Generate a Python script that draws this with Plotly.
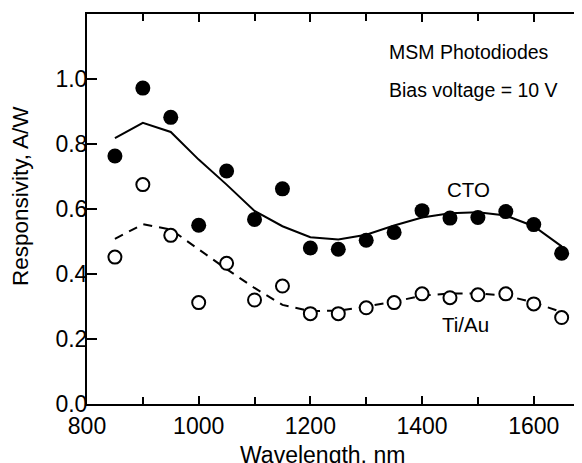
import plotly.graph_objects as go

wavelength = [850, 900, 950, 1000, 1050, 1100, 1150, 1200, 1250, 1300, 1350, 1400, 1450, 1500, 1550, 1600, 1650]
cto_points = [0.763, 0.972, 0.882, 0.550, 0.717, 0.568, 0.662, 0.480, 0.476, 0.504, 0.528, 0.595, 0.572, 0.574, 0.592, 0.552, 0.464]
cto_fit = [0.818, 0.865, 0.837, 0.752, 0.675, 0.594, 0.547, 0.513, 0.506, 0.521, 0.549, 0.574, 0.587, 0.590, 0.580, 0.547, 0.485]
tiau_points = [0.452, 0.675, 0.519, 0.312, 0.433, 0.320, 0.363, 0.278, 0.278, 0.296, 0.312, 0.339, 0.327, 0.336, 0.339, 0.308, 0.266]
tiau_fit = [0.508, 0.553, 0.537, 0.476, 0.415, 0.357, 0.305, 0.286, 0.287, 0.300, 0.315, 0.333, 0.340, 0.340, 0.334, 0.312, 0.283]

x_ticks = [800, 1000, 1200, 1400, 1600]
y_ticks = [0.0, 0.2, 0.4, 0.6, 0.8, 1.0]

FONT = "Liberation Sans, Arial, Helvetica, sans-serif"

fig = go.Figure()
fig.add_trace(go.Scatter(x=wavelength, y=cto_fit, mode="lines",
                         line=dict(color="black", width=2), showlegend=False))
fig.add_trace(go.Scatter(x=wavelength, y=tiau_fit, mode="lines",
                         line=dict(color="black", width=2, dash="9px,7px"), showlegend=False))
fig.add_trace(go.Scatter(x=wavelength, y=cto_points, mode="markers",
                         marker=dict(symbol="circle", size=15, color="black",
                                     line=dict(width=0)), showlegend=False))
fig.add_trace(go.Scatter(x=wavelength, y=tiau_points, mode="markers",
                         marker=dict(symbol="circle", size=13, color="white",
                                     line=dict(width=2, color="black")), showlegend=False))

axis_common = dict(showline=True, linecolor="black", linewidth=2, mirror="allticks",
                   ticks="inside", tickcolor="black", tickwidth=1.5,
                   showgrid=False, zeroline=False,
                   tickfont=dict(family=FONT, size=23, color="black"))

fig.update_xaxes(range=[800, 1690], tickvals=x_ticks, ticklen=8,
                 minor=dict(ticks="inside", dtick=100, tick0=800, ticklen=7,
                            tickcolor="black", tickwidth=1.5, showgrid=False),
                 **axis_common)
fig.update_yaxes(range=[0, 1.2], tickvals=y_ticks, tickformat=".1f", ticklen=10,
                 ticklabelstandoff=-7, **axis_common)

annots = [
    dict(x=1337.5, y=1.084, text="MSM Photodiodes", xanchor="left", yanchor="middle", size=19.5),
    dict(x=1337.5, y=0.966, text="Bias voltage = 10 V", xanchor="left", yanchor="middle", size=19.5),
    dict(x=1484, y=0.66, text="CTO", xanchor="center", yanchor="middle", size=20.5),
    dict(x=1477, y=0.246, text="Ti/Au", xanchor="center", yanchor="middle", size=20.5),
]
for a in annots:
    fig.add_annotation(x=a["x"], y=a["y"], xref="x", yref="y", text=a["text"],
                       xanchor=a["xanchor"], yanchor=a["yanchor"], showarrow=False,
                       font=dict(family=FONT, size=a["size"], color="black"))

fig.add_annotation(x=0.474, y=-0.130, xref="paper", yref="paper", text="Wavelength, nm",
                   xanchor="center", yanchor="middle", showarrow=False,
                   font=dict(family=FONT, size=23, color="black"))
fig.add_annotation(x=-0.135, y=0.533, xref="paper", yref="paper", text="Responsivity, A/W",
                   textangle=-90, xanchor="center", yanchor="middle", showarrow=False,
                   font=dict(family=FONT, size=22.5, color="black"))

# the page adds an 8px body margin, so the plot area is shifted up/left to compensate
fig.update_layout(width=582, height=463, margin=dict(l=79, r=5, t=4, b=67),
                  paper_bgcolor="white", plot_bgcolor="white")

fig.write_html("out.html")
